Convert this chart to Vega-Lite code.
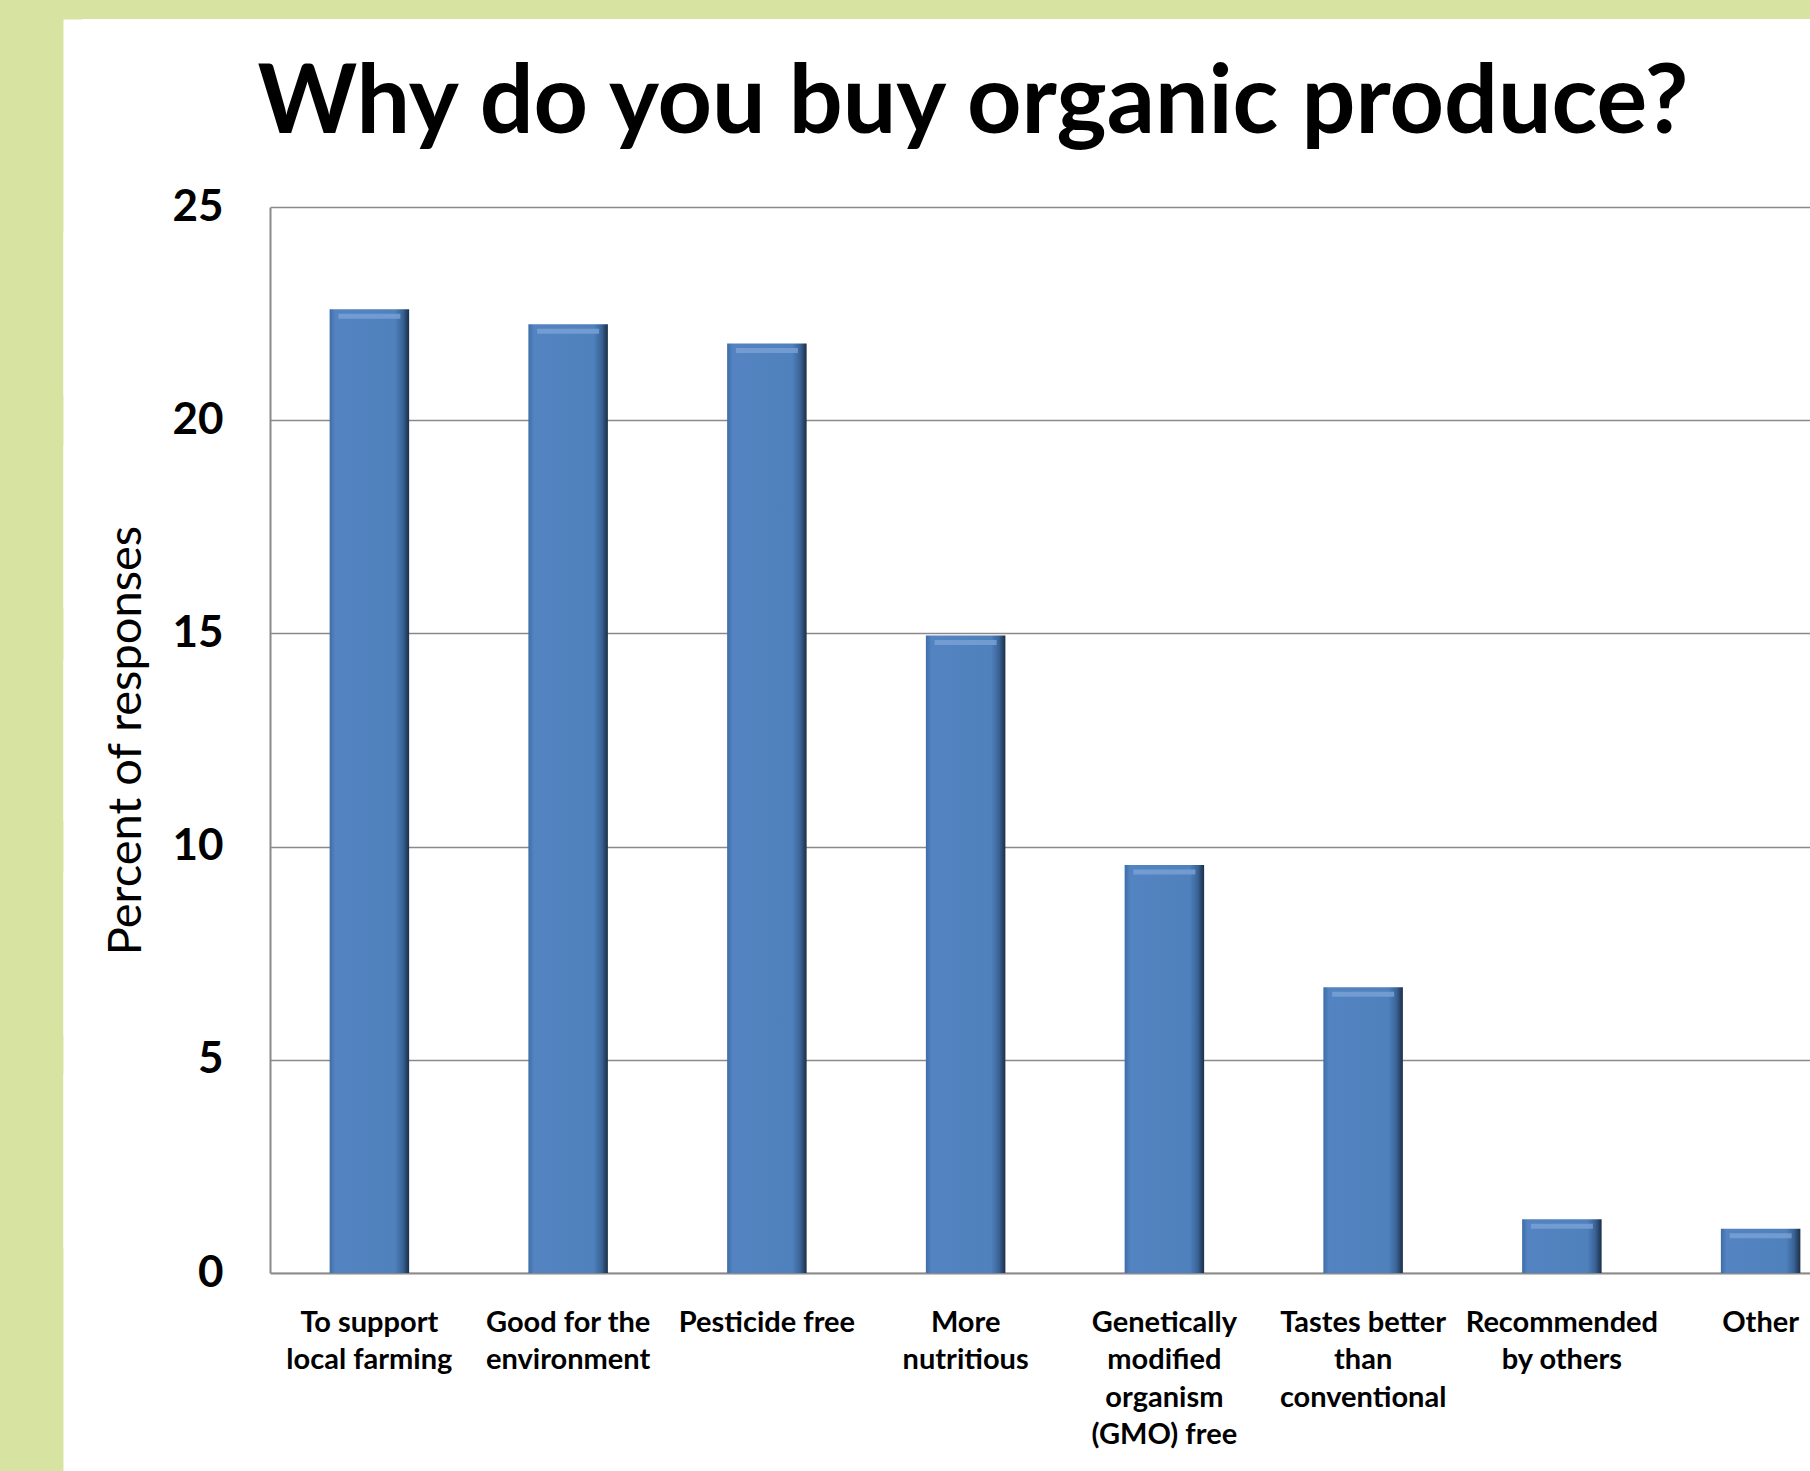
{
  "$schema": "https://vega.github.io/schema/vega-lite/v6.json",
  "width": 1540,
  "height": 1066,
  "autosize": {"type": "none"},
  "padding": {"left": 270, "top": 207, "right": 0, "bottom": 198},
  "background": "#d7e4a1",
  "config": {
    "font": "Lato",
    "view": {"fill": "white", "stroke": "white", "strokeWidth": 376, "strokeJoin": "miter"}
  },
  "title": {
    "text": "Why do you buy organic produce?",
    "font": "Lato",
    "fontSize": 95,
    "fontWeight": "bold",
    "color": "#000000",
    "anchor": "middle",
    "baseline": "alphabetic",
    "dx": -67,
    "offset": -209
  },
  "data": {
    "values": [
      {"reason": "To support local farming", "percent": 22.6},
      {"reason": "Good for the environment", "percent": 22.25},
      {"reason": "Pesticide free", "percent": 21.8},
      {"reason": "More nutritious", "percent": 14.95},
      {"reason": "Genetically modified organism (GMO) free", "percent": 9.57},
      {"reason": "Tastes better than conventional", "percent": 6.7},
      {"reason": "Recommended by others", "percent": 1.26},
      {"reason": "Other", "percent": 1.04}
    ]
  },
  "encoding": {
    "x": {
      "field": "reason",
      "type": "nominal",
      "sort": null,
      "scale": {"range": [0, 1590], "paddingInner": 0.6, "paddingOuter": 0.3},
      "axis": {
        "title": null,
        "labelAngle": 0,
        "labelFont": "Lato",
        "labelFontSize": 29,
        "labelFontWeight": "bold",
        "labelColor": "#000000",
        "labelLineHeight": 37.5,
        "labelBaseline": "top",
        "labelOverlap": false,
        "labelLimit": 400,
        "labelPadding": -165,
        "tickColor": "white",
        "tickSize": 200,
        "tickWidth": 199,
        "domainColor": "#8a8a8a",
        "domainWidth": 2,
        "labelExpr": "datum.value == 'To support local farming' ? ['To support', 'local farming'] : datum.value == 'Good for the environment' ? ['Good for the', 'environment'] : datum.value == 'More nutritious' ? ['More', 'nutritious'] : datum.value == 'Genetically modified organism (GMO) free' ? ['Genetically', 'modified', 'organism', '(GMO) free'] : datum.value == 'Tastes better than conventional' ? ['Tastes better', 'than', 'conventional'] : datum.value == 'Recommended by others' ? ['Recommended', 'by others'] : datum.label"
      }
    },
    "y": {
      "field": "percent",
      "type": "quantitative",
      "scale": {"domain": [0, 25], "nice": false},
      "axis": {
        "values": [0, 5, 10, 15, 20, 25],
        "title": "Percent of responses",
        "titleFont": "Lato",
        "titleFontSize": 47,
        "titleFontWeight": "normal",
        "titleColor": "#000000",
        "titlePadding": -80,
        "labelFont": "Lato",
        "labelFontSize": 44,
        "labelFontWeight": "bold",
        "labelColor": "#000000",
        "labelPadding": -160,
        "tickColor": "white",
        "tickSize": 207,
        "tickWidth": {"condition": {"test": "datum.value == 0", "value": 400}, "value": 376},
        "domainColor": "#8a8a8a",
        "domainWidth": 2,
        "grid": true,
        "gridColor": "#8a8a8a",
        "gridWidth": 1.5
      }
    }
  },
  "layer": [
    {
      "mark": {
        "type": "bar",
        "color": {
          "gradient": "linear",
          "x1": 0, "x2": 1, "y1": 0, "y2": 0,
          "stops": [
            {"offset": 0, "color": "#3e6da8"},
            {"offset": 0.07, "color": "#5384c1"},
            {"offset": 0.82, "color": "#4f81bd"},
            {"offset": 0.92, "color": "#3a6396"},
            {"offset": 1, "color": "#1b2e47"}
          ]
        }
      }
    },
    {
      "mark": {"type": "tick", "color": "#7aa3d6", "thickness": 5, "yOffset": 7, "opacity": 0.8, "size": 62}
    }
  ]
}
